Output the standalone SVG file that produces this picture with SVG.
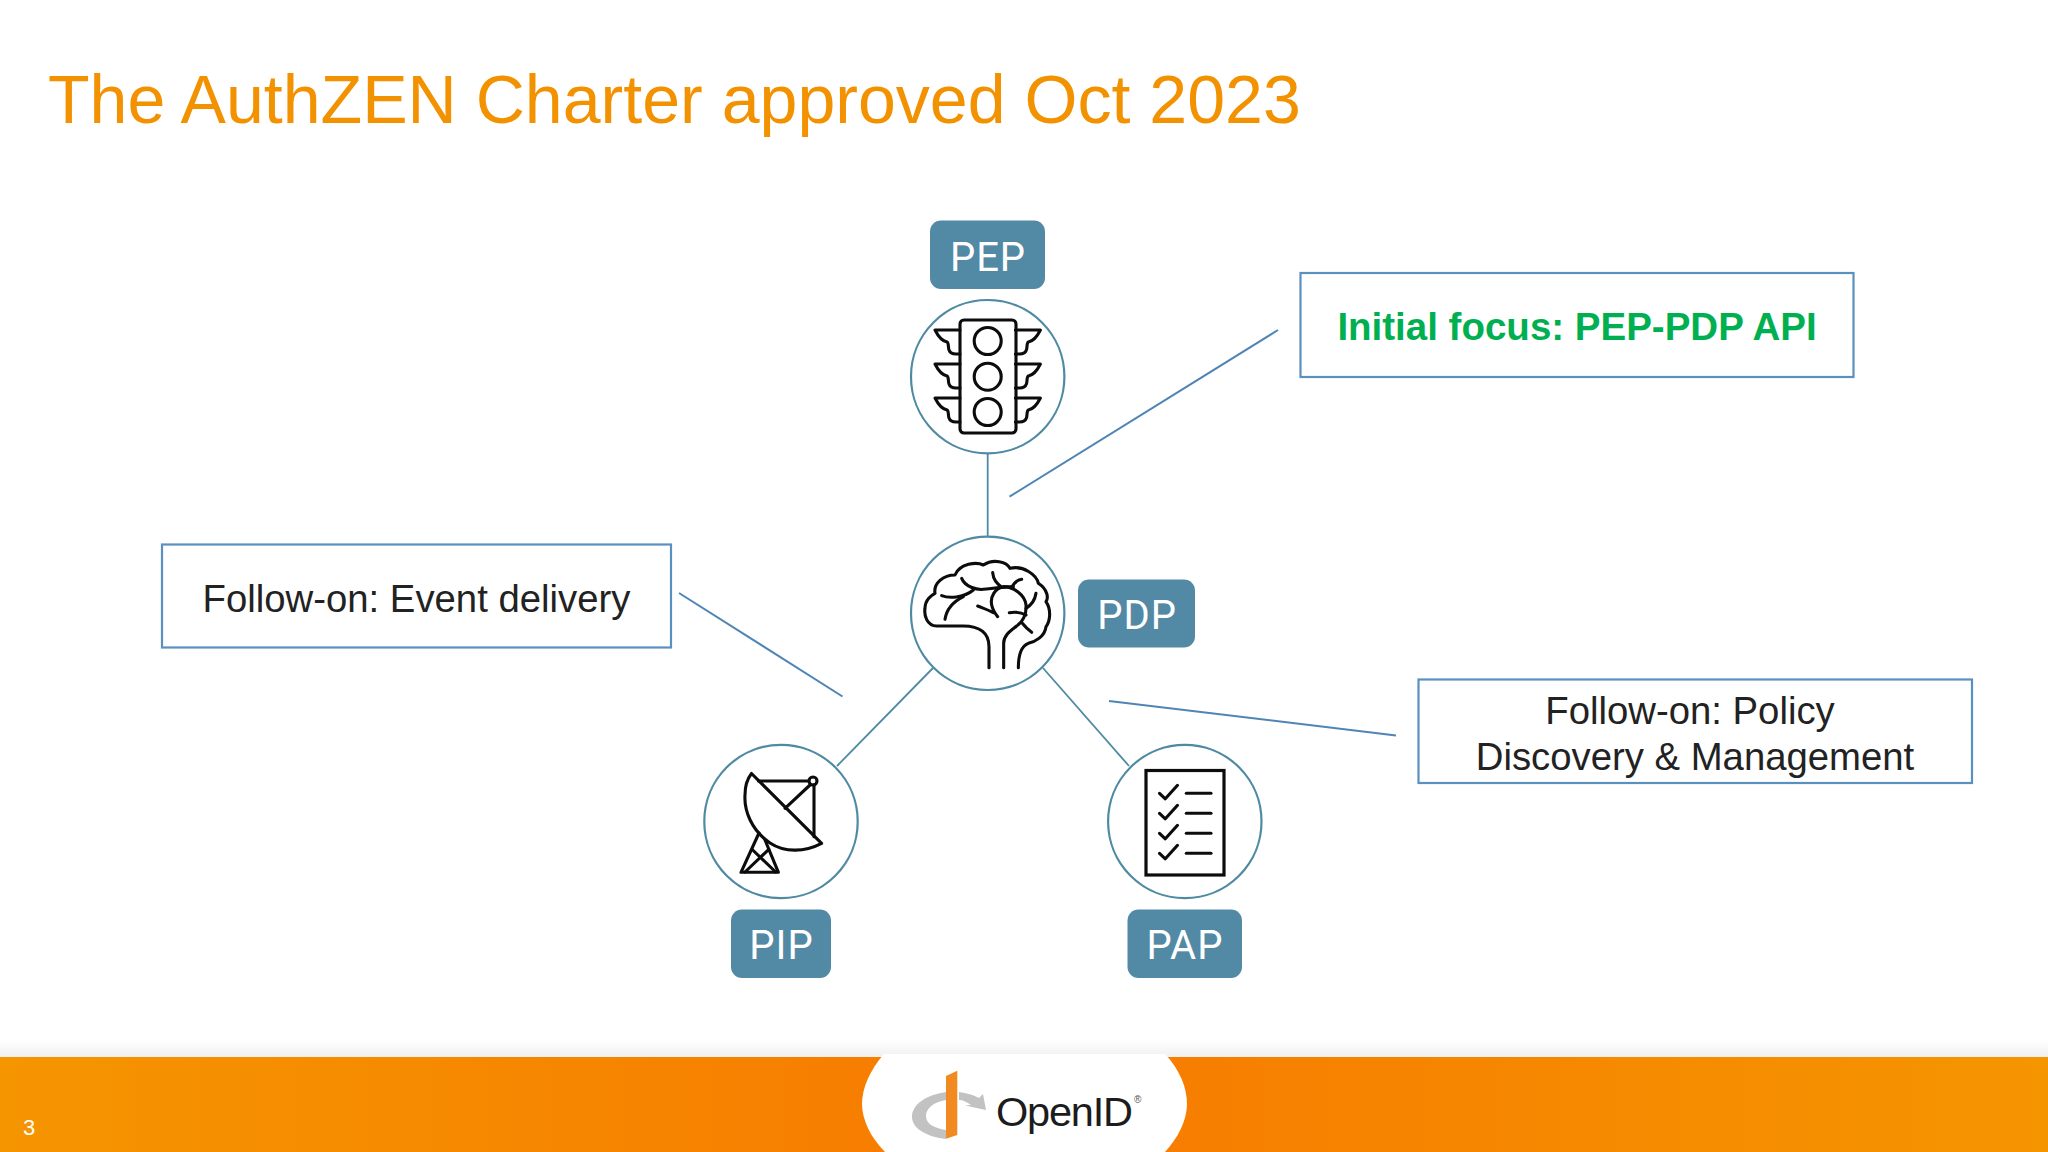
<svg xmlns="http://www.w3.org/2000/svg" width="2048" height="1152" viewBox="0 0 2048 1152">
<defs>
<linearGradient id="bar" x1="0" x2="1" y1="0" y2="0"><stop offset="0" stop-color="#f59500"/><stop offset="0.5" stop-color="#f77a00"/><stop offset="1" stop-color="#f59500"/></linearGradient>
<linearGradient id="sh" x1="0" x2="0" y1="0" y2="1"><stop offset="0" stop-color="#f0f0f0" stop-opacity="0"/><stop offset="1" stop-color="#f0f0f0"/></linearGradient>
<g id="wing"><path d="M960 330 H935 C938 336 942 341 947 342 C949 343 948 348 949 350 C950 353 953 354 956 354 H960"/></g>
<g id="check"><path d="M1159.5 0 L1165.3 5.5 L1177.5 -8"/><path d="M1186.3 0 H1211"/></g>
</defs>
<style>
text{font-family:"Liberation Sans",Arial,sans-serif}
.tag{fill:#5289a5}
.tagt{font-family:Roboto,"Liberation Sans",sans-serif;font-size:40px;letter-spacing:1px;fill:#fff;text-anchor:middle}
.circ{fill:#fff;stroke:#4f8aa3;stroke-width:2.2}
.ic{fill:none;stroke:#0c0c0c;stroke-width:3.1;stroke-linejoin:round;stroke-linecap:round}
.box{fill:#fff;stroke:#5a90c0;stroke-width:2.2}
.lab{font-size:38.300px;fill:#222;text-anchor:middle}
.cn{stroke:#4f8aa3;stroke-width:1.800;fill:none}
.lead{stroke:#4f85b5;stroke-width:2;fill:none}
</style>
<rect width="2048" height="1152" fill="#fff"/>
<text id="title" x="48" y="123" font-size="68.100" fill="#f39200">The AuthZEN Charter approved Oct 2023</text>
<g id="connectors">
<path class="cn" d="M987.7 453 V536"/>
<path class="cn" d="M933 668 L837 766"/>
<path class="cn" d="M1043 668 L1129 766"/>
<path class="lead" d="M1278 330 L1009.5 496.7"/>
<path class="lead" d="M679 593 L842.500 696.500"/>
<path class="lead" d="M1109 701 L1396 735.500"/>
</g>
<g id="pep">
<rect class="tag" x="930" y="220.500" width="115" height="68.500" rx="11"/>
<text class="tagt" x="988" y="270.500">PEP</text>
<circle class="circ" cx="987.7" cy="376.7" r="76.7"/>
<g class="ic">
<rect x="960" y="320" width="56" height="113" rx="4"/>
<circle cx="987.7" cy="341" r="13.500"/><circle cx="987.7" cy="376.7" r="13.500"/><circle cx="987.7" cy="412" r="13.500"/>
<use href="#wing"/><use href="#wing" y="34"/><use href="#wing" y="68"/>
<g transform="translate(1975.400 0) scale(-1 1)"><use href="#wing"/><use href="#wing" y="34"/><use href="#wing" y="68"/></g>
</g>
</g>
<g id="pdp">
<circle class="circ" cx="987.7" cy="613.3" r="76.7"/>
<rect class="tag" x="1078" y="579.500" width="117" height="68" rx="11"/>
<text class="tagt" x="1137" y="629">PDP</text>
<g transform="translate(880 200) scale(.33333)" class="ic" style="stroke-width:9.300">
<path d="M327 1403 V1340 C327 1300 300 1278 250 1278 H170 C140 1278 132 1245 135 1225 C135 1200 155 1185 165 1180 C160 1150 190 1125 225 1125 C240 1090 290 1085 310 1095 C340 1075 380 1085 390 1105 C430 1095 470 1125 475 1150 C505 1170 505 1195 498 1205 C515 1230 510 1265 498 1280 C495 1310 465 1325 445 1330 C420 1340 415 1370 415 1403"/>
<path d="M371 1403 V1330 C371 1305 395 1290 410 1278 C430 1265 440 1240 438 1215 C435 1185 400 1160 370 1160 C345 1165 330 1190 335 1215 C337 1225 345 1240 353 1250"/>
<path d="M245 1135 C255 1160 290 1170 310 1168 C340 1165 380 1160 400 1160"/>
<path d="M338 1118 C340 1140 350 1150 365 1162"/>
<path d="M425 1138 C410 1140 400 1150 395 1165"/>
<path d="M185 1187 C205 1195 250 1195 280 1170"/>
<path d="M195 1258 C200 1225 220 1205 250 1190"/>
<path d="M293 1218 C310 1225 325 1230 340 1238"/>
<path d="M388 1238 C405 1235 425 1238 438 1245"/>
<path d="M427 1270 C435 1280 445 1290 455 1297"/>
<path d="M438 1225 C455 1215 465 1200 468 1180"/>
</g>
</g>
<g id="pip">
<circle class="circ" cx="781" cy="821.500" r="76.7"/>
<rect class="tag" x="731" y="909.500" width="100" height="68.500" rx="11"/>
<text class="tagt" x="781.500" y="959">PIP</text>
<g class="ic">
<path d="M751.500 773.500 L821.6 843.3 C805 852 785 853 770 843 C751 830 744 810 745 795 C745 785 748 778 751.500 773.500Z"/>
<path d="M758.5 781 H808.5"/>
<circle cx="813" cy="781" r="4"/>
<path d="M814 785 V836.7"/>
<path d="M810 785 L785 808.3"/>
<path d="M759 833 L741 872.3 H778.4 L765 840"/>
<path d="M752.7 850 L775.7 872"/>
<path d="M768.8 849.3 L745 872"/>
</g>
</g>
<g id="pap">
<circle class="circ" cx="1184.8" cy="821.500" r="76.7"/>
<rect class="tag" x="1127.500" y="909.500" width="114.500" height="68.500" rx="11"/>
<text class="tagt" x="1185" y="959">PAP</text>
<g class="ic">
<rect x="1146" y="770.500" width="78" height="104.500" style="stroke-width:3.200;stroke-linejoin:miter"/>
<use href="#check" y="793.3"/><use href="#check" y="813.3"/><use href="#check" y="833.3"/><use href="#check" y="853.3"/>
</g>
</g>
<g id="focus">
<rect class="box" x="1300.500" y="273" width="553" height="104"/>
<text class="lab" x="1577" y="340" style="font-size:38.500px;font-weight:700;fill:#00b050">Initial focus: PEP-PDP API</text>
</g>
<g id="event">
<rect class="box" x="162" y="544.500" width="509" height="103"/>
<text class="lab" x="416.500" y="611.500">Follow-on: Event delivery</text>
</g>
<g id="policy">
<rect class="box" x="1418.500" y="679.500" width="553.500" height="103.500"/>
<text class="lab" x="1690" y="723.500">Follow-on: Policy</text>
<text class="lab" x="1695" y="770">Discovery &amp; Management</text>
</g>
<g id="footer">
<rect y="1040" width="2048" height="17" fill="url(#sh)"/>
<rect y="1057" width="2048" height="95" fill="url(#bar)"/>
<path d="M884 1054 H1165 C1180 1070 1187 1088 1187 1104 C1187 1120 1178 1138 1165 1152 H885 C871 1138 862 1120 862 1104 C862 1088 870 1070 884 1054Z" fill="#fff"/>
<path d="M946 1092 C925 1095 912 1105 912 1117 C912 1129 928 1137 946 1139 V1130 C934 1128 926 1124 926 1116 C926 1108 934 1102 946 1100Z" fill="#c2c2c2"/>
<path d="M959 1092 C966 1093 974 1095 979 1098 L983 1094 L986 1110 L965 1105.500 L971 1105 C967 1102 963 1100 959 1100Z" fill="#c2c2c2"/>
<path d="M946 1076 L957.300 1070.700 V1135 L946 1138.700Z" fill="#f18a21"/>
<text x="996" y="1126" font-size="41.500" letter-spacing="-1.200" fill="#1c1c1c">OpenID</text>
<text x="1134" y="1103" font-size="10" fill="#555">®</text>
<text id="page" x="23" y="1135" font-size="22" fill="#fff">3</text>
</g>
</svg>
